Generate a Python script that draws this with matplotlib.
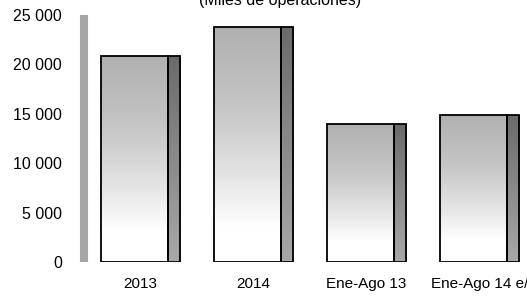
import numpy as np
import matplotlib.pyplot as plt
from matplotlib.colors import LinearSegmentedColormap

plt.rcParams['font.family'] = ['Liberation Sans Narrow', 'Liberation Sans', 'DejaVu Sans']

categories = ['2013', '2014', 'Ene-Ago 13', 'Ene-Ago 14 e/']
values = [20850, 23800, 13980, 14880]
yticks = [0, 5000, 10000, 15000, 20000, 25000]
ytick_labels = ['0', '5 000', '10 000', '15 000', '20 000', '25 000']
title = '(Miles de operaciones)'

W, H = 527, 298
fig = plt.figure(figsize=(W / 100, H / 100), dpi=100)
ax = fig.add_axes([84 / W, 36 / H, (W - 84) / W, (262 - 15) / H])

full_w = 0.70
side_w = 0.11
front_w = full_w - side_w
x = np.arange(len(categories))

front_cmap = LinearSegmentedColormap.from_list(
    'front', [(0, '#b0b0b0'), (0.35, '#c6c6c6'), (0.65, '#e6e6e6'), (0.85, '#ffffff'), (1, '#ffffff')])
side_cmap = LinearSegmentedColormap.from_list('side', ['#6a6a6a', '#8a8a8a', '#a8a8a8'])
grad = np.linspace(0, 1, 256).reshape(-1, 1)

fronts = ax.bar(x - full_w / 2, values, width=front_w, align='edge',
                facecolor='none', edgecolor='black', linewidth=1.3, zorder=3)
sides = ax.bar(x - full_w / 2 + front_w, values, width=side_w, align='edge',
               facecolor='none', edgecolor='black', linewidth=1.3, zorder=3)

for bars, cmap in ((fronts, front_cmap), (sides, side_cmap)):
    for b in bars:
        x0, w, h = b.get_x(), b.get_width(), b.get_height()
        im = ax.imshow(grad, cmap=cmap, aspect='auto', origin='upper',
                       extent=[x0, x0 + w, 0, h], zorder=2)
        im.set_clip_path(b)

ax.set_xlim(-0.5, (W - 140.5) / 113)
ax.set_ylim(0, 25000)
ax.set_xticks(x)
ax.set_xticklabels(categories, fontsize=11)
ax.set_yticks(yticks)
ax.set_yticklabels(ytick_labels, fontsize=11.5)
ax.tick_params(length=0)
ax.tick_params(axis='y', pad=16)
ax.tick_params(axis='x', pad=11)

for s in ('top', 'right', 'bottom'):
    ax.spines[s].set_visible(False)
ax.spines['left'].set_color('#a6a6a6')
ax.spines['left'].set_linewidth(5.8)
ax.spines['left'].set_capstyle('butt')

fig.text(280 / W, 1 - 5 / H, title, ha='center', va='baseline', fontsize=11.5)

fig.savefig('out.png', dpi=100)
